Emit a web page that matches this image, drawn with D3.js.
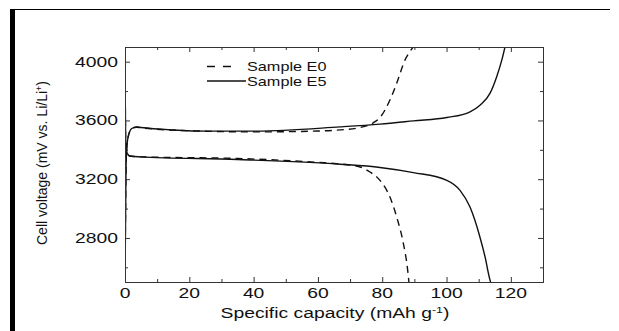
<!DOCTYPE html>
<html>
<head>
<meta charset="utf-8">
<script src="https://cdn.jsdelivr.net/npm/d3@7"></script>
<style>
    body { margin: 0; background: white; }
    svg { display: block; }
</style>
</head>
<body>
<div id="chart"></div>
<script>
// capacity (mAh/g) and voltage (mV)
let e0ChargeCap = [0, 0.3, 0.5, 1.0, 2.1, 3.6, 5, 20, 41, 60, 65.8, 73.1, 77.2, 79.3, 82.4, 84.5, 87.1, 88.6, 89.6]
let e0ChargeV = [2500, 3240, 3400, 3490, 3545, 3554, 3550, 3530, 3522, 3528, 3534, 3552, 3584, 3620, 3739, 3853, 4012, 4068, 4100]
let e0DischargeCap = [0, 0.1, 0.2, 0.6, 1.5, 4.7, 35, 62, 65.8, 73.1, 76.2, 79.3, 82.4, 84.5, 86.6, 87.8, 88.3]
let e0DischargeV = [4100, 3700, 3480, 3380, 3358, 3352, 3341, 3312, 3306, 3283, 3249, 3192, 3078, 2942, 2760, 2601, 2500]

let e5ChargeCap = [0, 0.3, 0.5, 1.0, 2.1, 3.6, 5, 15, 25.4, 41, 66.9, 79.3, 89.7, 100.1, 107.3, 110.4, 113.5, 115.6, 117.2, 118.2]
let e5ChargeV = [2500, 3240, 3400, 3490, 3545, 3556, 3552, 3535, 3527, 3527, 3556, 3575, 3597, 3620, 3659, 3704, 3784, 3898, 4012, 4102]
let e5DischargeCap = [0, 0.1, 0.2, 0.6, 1.5, 4.7, 35, 66.9, 79.3, 89.7, 100.1, 104.2, 107.3, 110.4, 112, 113.3, 113.7]
let e5DischargeV = [4100, 3700, 3480, 3380, 3358, 3352, 3334, 3302, 3280, 3245, 3192, 3124, 3010, 2805, 2669, 2532, 2500]

let xTicks = [0, 20, 40, 60, 80, 100, 120]
let yTicks = [2800, 3200, 3600, 4000]
let seriesNames = ['Sample E0', 'Sample E5']

let width = 619
let height = 331
let stretch = 1.38

let svg = d3.select('#chart').append('svg')
    .attr('width', width)
    .attr('height', height)
    .attr('font-family', 'Liberation Sans, Arial, sans-serif')

// page frame
svg.append('line')
    .attr('x1', 10).attr('x2', 610)
    .attr('y1', 9.5).attr('y2', 9.5)
    .attr('stroke', 'black')
    .attr('stroke-width', 1)
svg.append('rect')
    .attr('x', 10).attr('y', 9)
    .attr('width', 5).attr('height', height - 9)
    .attr('fill', 'black')

let x = d3.scaleLinear()
    .domain([0, 130])
    .range([125, 543])
let y = d3.scaleLinear()
    .domain([2500, 4100])
    .range([282, 47])

svg.append('clipPath')
    .attr('id', 'plot-clip')
    .append('rect')
        .attr('x', x(0)).attr('y', y(4100))
        .attr('width', x(130) - x(0))
        .attr('height', y(2500) - y(4100))

let line = d3.line()
    .x(d => x(d[0]))
    .y(d => y(d[1]))
    .curve(d3.curveMonotoneX)

let curves = [
    { cap: e0ChargeCap, v: e0ChargeV, dashed: true },
    { cap: e0DischargeCap, v: e0DischargeV, dashed: true },
    { cap: e5ChargeCap, v: e5ChargeV, dashed: false },
    { cap: e5DischargeCap, v: e5DischargeV, dashed: false }
]

let curveGroup = svg.append('g')
    .attr('clip-path', 'url(#plot-clip)')
curveGroup.selectAll('path.curve')
    .data(curves)
    .enter()
    .append('path')
        .attr('class', 'curve')
        .attr('d', d => line(d.cap.map((c, i) => [c, d.v[i]])))
        .attr('fill', 'none')
        .attr('stroke', '#111')
        .attr('stroke-width', 1.4)
        .attr('stroke-dasharray', d => d.dashed ? '7,5' : null)

// axes, ticks pointing inward on all four sides
let axisColor = '#333'
let bottomAxis = svg.append('g')
    .attr('transform', `translate(0,${y(2500)})`)
    .call(d3.axisBottom(x).tickValues(d3.range(0, 131, 10)).tickSize(-3).tickFormat(''))
let topAxis = svg.append('g')
    .attr('transform', `translate(0,${y(4100)})`)
    .call(d3.axisTop(x).tickValues(d3.range(0, 131, 10)).tickSize(-3).tickFormat(''))
let leftAxis = svg.append('g')
    .attr('transform', `translate(${x(0)},0)`)
    .call(d3.axisLeft(y).tickValues(d3.range(2600, 4100, 200)).tickSize(-3).tickFormat(''))
let rightAxis = svg.append('g')
    .attr('transform', `translate(${x(130)},0)`)
    .call(d3.axisRight(y).tickValues(d3.range(2600, 4100, 200)).tickSize(-3).tickFormat(''))

bottomAxis.selectAll('.tick line').filter(d => d % 20 == 0).attr('y2', -5)
topAxis.selectAll('.tick line').filter(d => d % 20 == 0).attr('y2', 5)
leftAxis.selectAll('.tick line').filter(d => d % 400 == 0).attr('x2', 5)
rightAxis.selectAll('.tick line').filter(d => d % 400 == 0).attr('x2', -5)

svg.selectAll('.domain, .tick line')
    .attr('stroke', axisColor)
    .attr('stroke-width', 1)

// tick labels (the source font is wide, so stretch a normal one sideways)
svg.selectAll('text.x-label')
    .data(xTicks)
    .enter()
    .append('text')
        .attr('class', 'x-label')
        .attr('transform', d => `translate(${x(d)},298) scale(${stretch},1)`)
        .attr('text-anchor', 'middle')
        .attr('font-size', 14)
        .attr('fill', '#111')
        .text(d => d)

svg.selectAll('text.y-label')
    .data(yTicks)
    .enter()
    .append('text')
        .attr('class', 'y-label')
        .attr('transform', d => `translate(118,${y(d) + 5}) scale(${stretch},1)`)
        .attr('text-anchor', 'end')
        .attr('font-size', 14)
        .attr('fill', '#111')
        .text(d => d)

let xTitle = svg.append('text')
    .attr('transform', `translate(335,318) scale(${stretch},1)`)
    .attr('text-anchor', 'middle')
    .attr('font-size', 14)
    .attr('fill', '#111')
xTitle.append('tspan').text('Specific capacity (mAh g')
xTitle.append('tspan').attr('dy', -5).attr('font-size', 9).text('-1')
xTitle.append('tspan').attr('dy', 5).text(')')

let yTitle = svg.append('text')
    .attr('transform', 'translate(47,163) rotate(-90)')
    .attr('text-anchor', 'middle')
    .attr('font-size', 14)
    .attr('fill', '#111')
yTitle.append('tspan').text('Cell voltage (mV vs. Li/Li')
yTitle.append('tspan').attr('dy', -5).attr('font-size', 9).text('+')
yTitle.append('tspan').attr('dy', 5).text(')')

// legend
let legend = svg.append('g')
legend.selectAll('line.legend-line')
    .data(seriesNames)
    .enter()
    .append('line')
        .attr('class', 'legend-line')
        .attr('x1', 207)
        .attr('x2', (d, i) => i == 0 ? 231 : 246)
        .attr('y1', (d, i) => 66.5 + i * 14.5)
        .attr('y2', (d, i) => 66.5 + i * 14.5)
        .attr('stroke', '#111')
        .attr('stroke-width', 1.4)
        .attr('stroke-dasharray', (d, i) => i == 0 ? '8,8' : null)
legend.selectAll('text.legend-text')
    .data(seriesNames)
    .enter()
    .append('text')
        .attr('class', 'legend-text')
        .attr('transform', (d, i) => `translate(247,${71 + i * 14.5}) scale(1.3,1)`)
        .attr('font-size', 12.5)
        .attr('fill', '#111')
        .text(d => d)
</script>
</body>
</html>
